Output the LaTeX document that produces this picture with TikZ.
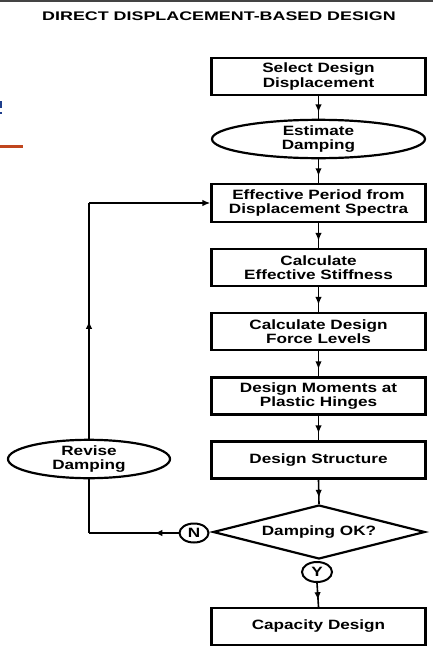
\documentclass[tikz,border=0pt]{standalone}
\usepackage{fontspec}
\usetikzlibrary{shapes.geometric,arrows.meta,decorations.markings}
\newfontfamily\boxfont[FakeStretch=1.27]{Liberation Sans}
\newfontfamily\titlefont[FakeStretch=1.43]{Liberation Sans}
\definecolor{slideorange}{HTML}{C0461E}
\definecolor{slideblue}{HTML}{1F3E8C}
\definecolor{bordergrey}{HTML}{444444}
\tikzset{
  txt/.style={font=\boxfont\bfseries\fontsize{13.5}{14.5}\selectfont, align=center, text=black},
  procbox/.style={txt, draw=black, line width=2.3pt, rectangle, minimum width=214pt, minimum height=37pt, inner sep=0pt},
  oval/.style={txt, draw=black, line width=2.2pt, ellipse, inner sep=0pt},
  decision/.style={txt, draw=black, line width=2.2pt, diamond, aspect=4, minimum width=212pt, minimum height=54pt, inner sep=0pt},
  tag/.style={txt, draw=black, line width=2pt, ellipse, minimum width=29pt, minimum height=19pt, inner sep=0pt},
  conn/.style={draw=black, line width=1.6pt},
  midarr/.style={conn, postaction={decorate}, decoration={markings, mark=at position #1 with {\arrow{Latex[length=8pt,width=6.5pt]}}}},
}
\begin{document}
\begin{tikzpicture}[x=1pt,y=1pt]
\useasboundingbox (0,0) rectangle (433,-656);
% slide remnants
\fill[bordergrey] (0,0) rectangle (433,-2);
\fill[slideorange] (0,-144.5) rectangle (23,-147.5);
\fill[slideblue] (0,-101) rectangle (2,-108);
\fill[slideblue] (0,-112) rectangle (1.5,-114);
% title
\node[font=\titlefont\bfseries\fontsize{12.5}{13}\selectfont, inner sep=0pt] (title) at (219,-16.5) {DIRECT DISPLACEMENT-BASED DESIGN};
% nodes
\node[procbox] (b1) at (318.5,-76.5) {Select Design\\Displacement};
\node[oval, minimum width=213pt, minimum height=38pt] (e2) at (318.5,-139) {Estimate\\Damping};
\node[procbox, minimum height=38pt] (b3) at (318.5,-203) {Effective Period from\\Displacement Spectra};
\node[procbox] (b4) at (318.5,-267.5) {Calculate\\Effective Stiffness};
\node[procbox] (b5) at (318.5,-331.5) {Calculate Design\\Force Levels};
\node[procbox] (b6) at (318.5,-396) {Design Moments at\\Plastic Hinges};
\node[procbox] (b7) at (318.5,-460) {Design Structure};
\node[decision] (d) at (319,-532) {Damping OK?};
\node[tag] (n) at (194,-533) {N};
\node[tag, minimum width=30pt, minimum height=20pt] (y) at (317,-572) {Y};
\node[procbox] (b8) at (318.5,-626.5) {Capacity Design};
\node[oval, minimum width=162pt, minimum height=38pt] (rev) at (89,-459) {Revise\\Damping};
% connectors
\draw[midarr=0.72] (b1.south) -- (e2.north);
\draw[midarr=0.72] (e2.south) -- (b3.north);
\draw[midarr=0.72] (b3.south) -- (b4.north);
\draw[midarr=0.72] (b4.south) -- (b5.north);
\draw[midarr=0.72] (b5.south) -- (b6.north);
\draw[midarr=0.72] (b6.south) -- (b7.north);
\draw[midarr=0.75] (b7.south) -- (d.north);
\draw[midarr=0.72] (y.south) -- (b8.north);
\coordinate (c1) at (rev.south |- n.west);
\coordinate (c2) at (rev.north |- b3.west);
\draw[midarr=0.27] (n.west) -- (c1);
\draw[conn] (c1) -- (rev.south);
\draw[midarr=0.5] (rev.north) -- (c2);
\draw[conn, -{Latex[length=8pt,width=6.5pt]}] (c2) -- (b3.west);
\end{tikzpicture}
\end{document}
